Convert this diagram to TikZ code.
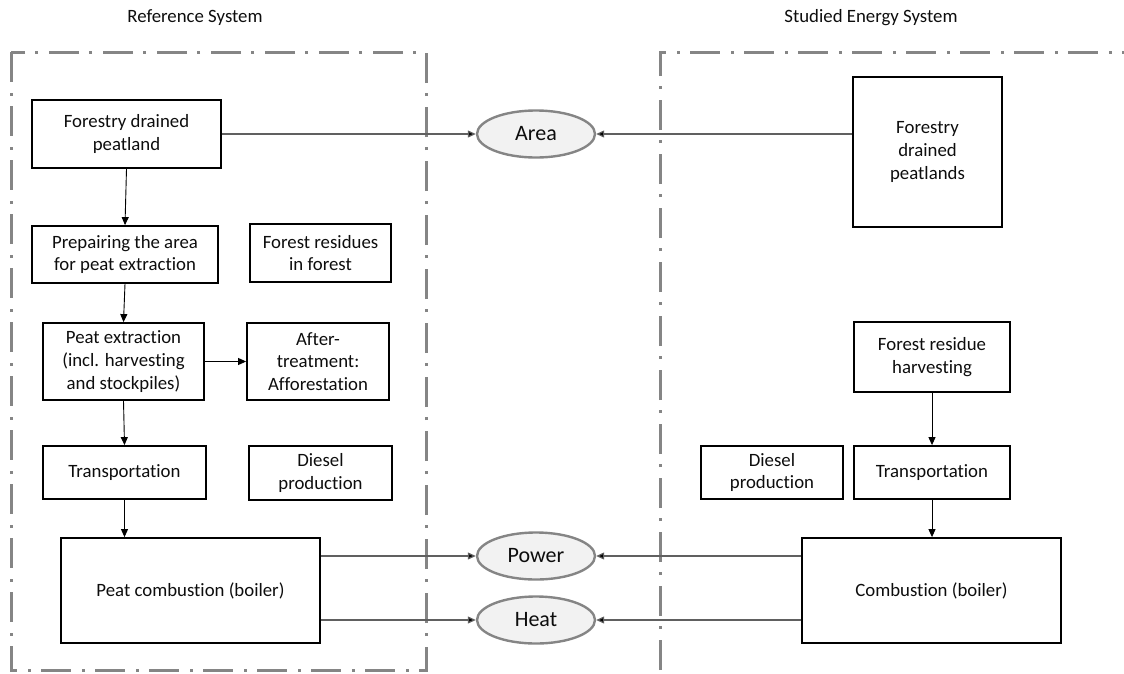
\documentclass[tikz,border=0pt]{standalone}
\usepackage{fontspec}
\setmainfont{Carlito}[Ligatures=NoCommon]
\usetikzlibrary{arrows.meta,shapes.geometric}
\definecolor{frame}{HTML}{858585}
\definecolor{bubble}{HTML}{F2F2F2}
\definecolor{ink}{HTML}{0D0D0D}
\definecolor{wire}{HTML}{606060}
\begin{document}
\begin{tikzpicture}[x=1pt,y=-1pt,
  every node/.style={font=\fontsize{18.8}{22.8}\selectfont, text=ink},
  stepbox/.style={draw=black, line width=1.8pt, align=center, inner sep=2pt},
  flow/.style={ellipse, draw=frame, fill=bubble, line width=2.4pt,
               minimum width=118pt, minimum height=47pt, inner sep=0pt,
               font=\fontsize{22}{26}\selectfont},
  sysframe/.style={draw=frame, line width=3pt,
                   dash pattern=on 30pt off 11pt on 3pt off 10pt},
  arr/.style={draw=black, line width=0.9pt, -{Triangle[length=8pt,width=7pt]}},
  harr/.style={draw=wire, line width=1.2pt, -{Triangle[length=8pt,width=7pt,fill=black]}}
]
\useasboundingbox (0,0) rectangle (1124,673);
\clip (0,0) rectangle (1124,673);

% system boundaries
\draw[sysframe] (11,52) rectangle (426,670);
\draw[sysframe] (660,670) -- (660,52) -- (1160,52);

% titles
\node (tref) at (195,18) {Reference System};
\node (tstud) at (871,18) {Studied Energy System};

% reference system
\node[stepbox, minimum width=189pt, minimum height=68pt] (fdp) at (126.5,134) {Forestry drained\\peatland};
\node[stepbox, minimum width=186pt, minimum height=57pt] (prep) at (125,254.5) {Prepairing the area\\for peat extraction};
\node[stepbox, minimum width=141pt, minimum height=58pt] (fres) at (320.5,253) {Forest residues\\in forest};
\node[stepbox, minimum width=161pt, minimum height=77pt] (pext) at (123.5,361.5) {Peat extraction\\(incl. harvesting\\and stockpiles)};
\node[stepbox, minimum width=142pt, minimum height=77pt] (aft) at (318,361.5) {After-\\treatment:\\Afforestation};
\node[stepbox, minimum width=163pt, minimum height=53pt] (trL) at (124.5,472.5) {Transportation};
\node[stepbox, minimum width=143pt, minimum height=54pt] (dieL) at (320.5,473) {Diesel\\production};
\node[stepbox, minimum width=259pt, minimum height=105pt] (pcomb) at (190.5,590.5) {Peat combustion (boiler)};

% studied energy system
\node[stepbox, minimum width=149pt, minimum height=150pt] (fdpR) at (927.5,152) {Forestry\\drained\\peatlands};
\node[stepbox, minimum width=156pt, minimum height=70pt] (frh) at (932,357) {Forest residue\\harvesting};
\node[stepbox, minimum width=142pt, minimum height=53pt] (dieR) at (772,472.5) {Diesel\\production};
\node[stepbox, minimum width=156pt, minimum height=53pt] (trR) at (932,472.5) {Transportation};
\node[stepbox, minimum width=259pt, minimum height=105pt] (comb) at (931.5,590.5) {Combustion (boiler)};

% functional units
\node[flow] (area) at (536,134) {Area};
\node[flow] (power) at (536,556) {Power};
\node[flow] (heat) at (536,620) {Heat};

% process chains
\draw[arr] (fdp.south) -- (prep.north);
\draw[arr] (prep.south) -- (pext.north);
\draw[arr] (pext.east) -- (aft.west);
\draw[arr] (pext.south) -- (trL.north);
\draw[arr] (trL.south) -- (pcomb.north -| trL.south);
\draw[arr] (frh.south) -- (trR.north);
\draw[arr] (trR.south) -- (comb.north -| trR.south);

% delivered products
\draw[harr] (fdp.east) -- (area.west);
\draw[harr] (area.east -| fdpR.west) -- (area.east);
\draw[harr] (pcomb.east |- power.west) -- (power.west);
\draw[harr] (pcomb.east |- heat.west) -- (heat.west);
\draw[harr] (comb.west |- power.east) -- (power.east);
\draw[harr] (comb.west |- heat.east) -- (heat.east);
\end{tikzpicture}
\end{document}
